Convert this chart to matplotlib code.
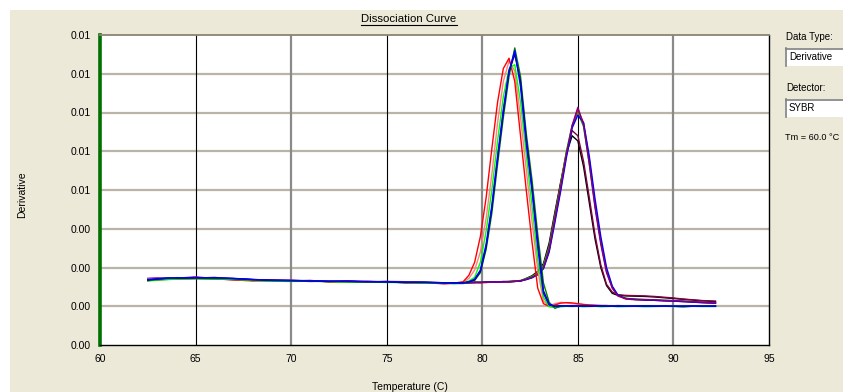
import matplotlib
matplotlib.use("Agg")
import matplotlib.pyplot as plt
from matplotlib.patches import Rectangle
from matplotlib.lines import Line2D
from matplotlib.ticker import FormatStrFormatter
import matplotlib.transforms as mtransforms

# ---------------- data ----------------
temperature = [62.5, 63.0, 63.5, 64.0, 65.0, 66.0, 67.0, 68.0, 69.0, 70.0,
               71.0, 72.0, 73.0, 74.0, 75.0, 76.0, 77.0, 78.0, 78.5, 79.0,
               79.3, 79.6, 79.9, 80.2, 80.5, 80.8, 81.1, 81.4, 81.7, 82.0,
               82.3, 82.6, 82.9, 83.2, 83.5, 83.8, 84.1, 84.4, 84.7, 85.0,
               85.3, 85.6, 85.9, 86.2, 86.5, 86.8, 87.1, 87.5, 88.0, 88.5,
               89.0, 89.5, 90.0, 90.5, 91.0, 91.5, 92.2]

# group A (product melting near 81.6 C)
a_red = [0.00250, 0.00254, 0.00255, 0.00257, 0.00262, 0.00256, 0.00252, 0.00248, 0.00251, 0.00247,
         0.00250, 0.00244, 0.00247, 0.00243, 0.00246, 0.00240, 0.00241, 0.00237, 0.00239, 0.00245,
         0.00270, 0.00320, 0.00420, 0.00570, 0.00760, 0.00940, 0.01070, 0.01110, 0.01020, 0.00810,
         0.00600, 0.00400, 0.00220, 0.00160, 0.00150, 0.00155, 0.00162, 0.00164, 0.00163, 0.00160,
         0.00157, 0.00155, 0.00154, 0.00152, 0.00153, 0.00151, 0.00152, 0.00150, 0.00151, 0.00152,
         0.00150, 0.00151, 0.00150, 0.00149, 0.00150, 0.00151, 0.00150]
a_salmon = [0.00256, 0.00258, 0.00256, 0.00261, 0.00258, 0.00262, 0.00255, 0.00253, 0.00248, 0.00250,
            0.00246, 0.00248, 0.00244, 0.00247, 0.00243, 0.00245, 0.00242, 0.00241, 0.00240, 0.00242,
            0.00258, 0.00290, 0.00360, 0.00490, 0.00660, 0.00860, 0.01020, 0.01100, 0.01060, 0.00880,
            0.00680, 0.00480, 0.00290, 0.00170, 0.00152, 0.00160, 0.00165, 0.00163, 0.00160, 0.00158,
            0.00156, 0.00155, 0.00153, 0.00154, 0.00152, 0.00151, 0.00153, 0.00151, 0.00150, 0.00151,
            0.00152, 0.00150, 0.00151, 0.00150, 0.00151, 0.00150, 0.00152]
a_lgreen = [0.00248, 0.00251, 0.00253, 0.00255, 0.00257, 0.00255, 0.00254, 0.00250, 0.00247, 0.00246,
            0.00247, 0.00245, 0.00243, 0.00244, 0.00242, 0.00242, 0.00240, 0.00239, 0.00238, 0.00240,
            0.00248, 0.00262, 0.00320, 0.00440, 0.00600, 0.00790, 0.00960, 0.01070, 0.01085, 0.00940,
            0.00740, 0.00540, 0.00330, 0.00185, 0.00148, 0.00145, 0.00148, 0.00150, 0.00149, 0.00150,
            0.00148, 0.00149, 0.00150, 0.00148, 0.00149, 0.00150, 0.00148, 0.00149, 0.00150, 0.00148,
            0.00149, 0.00150, 0.00149, 0.00148, 0.00150, 0.00149, 0.00149]
a_green = [0.00252, 0.00253, 0.00257, 0.00258, 0.00259, 0.00257, 0.00256, 0.00251, 0.00249, 0.00248,
           0.00246, 0.00247, 0.00245, 0.00243, 0.00244, 0.00241, 0.00242, 0.00240, 0.00238, 0.00238,
           0.00243, 0.00250, 0.00280, 0.00370, 0.00510, 0.00700, 0.00880, 0.01040, 0.01150, 0.01040,
           0.00820, 0.00640, 0.00430, 0.00240, 0.00165, 0.00142, 0.00150, 0.00152, 0.00151, 0.00150,
           0.00152, 0.00150, 0.00151, 0.00150, 0.00152, 0.00151, 0.00150, 0.00151, 0.00150, 0.00152,
           0.00150, 0.00151, 0.00150, 0.00148, 0.00150, 0.00151, 0.00150]
a_blue = [0.00254, 0.00257, 0.00258, 0.00260, 0.00261, 0.00260, 0.00258, 0.00253, 0.00251, 0.00250,
          0.00249, 0.00247, 0.00246, 0.00246, 0.00245, 0.00244, 0.00243, 0.00241, 0.00240, 0.00240,
          0.00245, 0.00255, 0.00290, 0.00390, 0.00540, 0.00730, 0.00910, 0.01060, 0.01140, 0.01000,
          0.00780, 0.00600, 0.00380, 0.00200, 0.00155, 0.00150, 0.00151, 0.00152, 0.00152, 0.00151,
          0.00150, 0.00151, 0.00152, 0.00151, 0.00150, 0.00151, 0.00151, 0.00150, 0.00151, 0.00150,
          0.00151, 0.00150, 0.00150, 0.00151, 0.00150, 0.00150, 0.00150]
a_navy = [0.00251, 0.00255, 0.00259, 0.00259, 0.00260, 0.00261, 0.00257, 0.00254, 0.00250, 0.00249,
          0.00248, 0.00246, 0.00247, 0.00245, 0.00244, 0.00243, 0.00242, 0.00240, 0.00241, 0.00241,
          0.00244, 0.00252, 0.00285, 0.00380, 0.00530, 0.00720, 0.00900, 0.01060, 0.01125, 0.01020,
          0.00800, 0.00610, 0.00400, 0.00210, 0.00158, 0.00150, 0.00152, 0.00151, 0.00150, 0.00152,
          0.00151, 0.00150, 0.00151, 0.00152, 0.00150, 0.00150, 0.00151, 0.00150, 0.00150, 0.00151,
          0.00150, 0.00151, 0.00150, 0.00150, 0.00151, 0.00150, 0.00151]

# group B (product melting near 85.0 C)
b_purple = [0.00258, 0.00260, 0.00257, 0.00259, 0.00263, 0.00258, 0.00257, 0.00252, 0.00250, 0.00251,
            0.00247, 0.00246, 0.00248, 0.00244, 0.00246, 0.00245, 0.00242, 0.00241, 0.00240, 0.00240,
            0.00242, 0.00241, 0.00242, 0.00243, 0.00243, 0.00244, 0.00244, 0.00245, 0.00246, 0.00248,
            0.00255, 0.00262, 0.00275, 0.00300, 0.00370, 0.00490, 0.00610, 0.00740, 0.00850, 0.00920,
            0.00850, 0.00700, 0.00530, 0.00390, 0.00280, 0.00220, 0.00190, 0.00180, 0.00177, 0.00176,
            0.00175, 0.00173, 0.00172, 0.00170, 0.00168, 0.00166, 0.00163]
b_red = [0.00250, 0.00252, 0.00254, 0.00256, 0.00258, 0.00257, 0.00254, 0.00250, 0.00248, 0.00247,
         0.00249, 0.00245, 0.00244, 0.00246, 0.00243, 0.00242, 0.00241, 0.00238, 0.00239, 0.00239,
         0.00241, 0.00243, 0.00241, 0.00242, 0.00244, 0.00243, 0.00245, 0.00244, 0.00246, 0.00249,
         0.00254, 0.00261, 0.00273, 0.00298, 0.00365, 0.00485, 0.00605, 0.00735, 0.00845, 0.00912,
         0.00860, 0.00715, 0.00545, 0.00400, 0.00285, 0.00222, 0.00190, 0.00178, 0.00175, 0.00174,
         0.00173, 0.00171, 0.00170, 0.00168, 0.00166, 0.00164, 0.00162]
b_green = [0.00253, 0.00256, 0.00256, 0.00257, 0.00259, 0.00258, 0.00255, 0.00252, 0.00249, 0.00248,
           0.00248, 0.00246, 0.00245, 0.00245, 0.00244, 0.00243, 0.00242, 0.00240, 0.00239, 0.00241,
           0.00242, 0.00242, 0.00243, 0.00242, 0.00243, 0.00245, 0.00244, 0.00246, 0.00247, 0.00250,
           0.00257, 0.00265, 0.00280, 0.00308, 0.00380, 0.00500, 0.00620, 0.00750, 0.00850, 0.00900,
           0.00845, 0.00700, 0.00540, 0.00400, 0.00290, 0.00225, 0.00192, 0.00181, 0.00178, 0.00176,
           0.00175, 0.00173, 0.00171, 0.00170, 0.00168, 0.00165, 0.00163]
b_blue = [0.00255, 0.00257, 0.00259, 0.00258, 0.00260, 0.00259, 0.00256, 0.00253, 0.00250, 0.00249,
          0.00248, 0.00247, 0.00246, 0.00245, 0.00245, 0.00244, 0.00242, 0.00241, 0.00240, 0.00240,
          0.00241, 0.00242, 0.00242, 0.00243, 0.00244, 0.00244, 0.00245, 0.00245, 0.00246, 0.00248,
          0.00253, 0.00260, 0.00272, 0.00295, 0.00360, 0.00475, 0.00595, 0.00725, 0.00840, 0.00890,
          0.00860, 0.00730, 0.00565, 0.00420, 0.00300, 0.00228, 0.00193, 0.00180, 0.00176, 0.00174,
          0.00173, 0.00171, 0.00170, 0.00168, 0.00166, 0.00164, 0.00162]
b_black = [0.00249, 0.00253, 0.00255, 0.00256, 0.00257, 0.00256, 0.00253, 0.00251, 0.00249, 0.00248,
           0.00247, 0.00246, 0.00245, 0.00244, 0.00244, 0.00243, 0.00241, 0.00240, 0.00240, 0.00241,
           0.00242, 0.00243, 0.00242, 0.00244, 0.00244, 0.00245, 0.00245, 0.00246, 0.00247, 0.00248,
           0.00258, 0.00268, 0.00285, 0.00315, 0.00395, 0.00515, 0.00630, 0.00740, 0.00810, 0.00790,
           0.00690, 0.00550, 0.00410, 0.00300, 0.00230, 0.00200, 0.00192, 0.00190, 0.00189, 0.00188,
           0.00186, 0.00183, 0.00180, 0.00177, 0.00174, 0.00171, 0.00168]
b_maroon = [0.00252, 0.00255, 0.00257, 0.00259, 0.00261, 0.00258, 0.00256, 0.00252, 0.00251, 0.00249,
            0.00248, 0.00247, 0.00246, 0.00245, 0.00245, 0.00244, 0.00242, 0.00241, 0.00241, 0.00240,
            0.00241, 0.00242, 0.00243, 0.00243, 0.00244, 0.00244, 0.00246, 0.00245, 0.00247, 0.00247,
            0.00256, 0.00265, 0.00280, 0.00308, 0.00385, 0.00505, 0.00625, 0.00745, 0.00830, 0.00810,
            0.00710, 0.00570, 0.00425, 0.00310, 0.00235, 0.00205, 0.00195, 0.00192, 0.00191, 0.00190,
            0.00188, 0.00185, 0.00182, 0.00178, 0.00175, 0.00172, 0.00170]

series = [
    (b_black, "#000000"), (b_maroon, "#800040"), (b_green, "#00C000"),
    (b_red, "#FF0000"), (b_blue, "#0000FF"), (b_purple, "#800080"),
    (a_salmon, "#FF8080"), (a_red, "#FF0000"), (a_lgreen, "#00FF00"),
    (a_green, "#008000"), (a_navy, "#000080"), (a_blue, "#0000FF"),
]

x_ticks = [60, 65, 70, 75, 80, 85, 90, 95]
y_ticks = [0.0, 0.0015, 0.003, 0.0045, 0.006, 0.0075, 0.009, 0.0105, 0.012]

# ---------------- figure ----------------
W, H = 843, 392
fig = plt.figure(figsize=(W / 100, H / 100), dpi=100, facecolor="white")
plt.rcParams["font.family"] = ["Liberation Sans", "DejaVu Sans"]
beige = "#ECE9D8"
fig.add_artist(Rectangle((10 / W, 0), 1 - 10 / W, 1 - 10 / H, transform=fig.transFigure,
                         facecolor=beige, edgecolor="none", zorder=-10))

ax = fig.add_axes([100 / W, (H - 345) / H, 669 / W, 310 / H])
ax.set_facecolor("white")
ax.set_xlim(60, 95)
ax.set_ylim(0, 0.012)
ax.set_xticks(x_ticks)
ax.set_yticks(y_ticks)
ax.yaxis.set_major_formatter(FormatStrFormatter("%.2f"))
ax.tick_params(length=0, labelsize=7.5, colors="#000000", pad=6.5)

for yv in y_ticks[1:-1]:
    ax.axhline(yv, color="#B9B4A6", lw=1.6, zorder=1)
for xv in [65, 75, 85]:
    ax.axvline(xv, color="#000000", lw=0.8, zorder=1)
for xv in [70, 80, 90]:
    ax.axvline(xv, color="#8A8A8A", lw=1.6, zorder=1)

for vals, col in series:
    ax.plot(temperature, vals, color=col, lw=1.0, zorder=3)

ax.spines["top"].set_color("#8C8470")
ax.spines["top"].set_linewidth(1.3)
ax.spines["right"].set_color("#000000")
ax.spines["right"].set_linewidth(1.0)
ax.spines["bottom"].set_color("#000000")
ax.spines["bottom"].set_linewidth(1.0)
ax.spines["left"].set_color("#007000")
ax.spines["left"].set_linewidth(2.6)

def fx(px):
    return px / W

def fy(py):
    return 1 - py / H

title = fig.text(fx(409), fy(19), "Dissociation Curve", ha="center", va="center", fontsize=8.2)
fig.text(fx(22), fy(195), "Derivative", rotation=90, ha="center", va="center", fontsize=7.5)
fig.text(fx(410), fy(382), "Temperature (C)", ha="center", va="top", fontsize=7.5)

# right-hand control panel
fig.text(fx(786), fy(37), "Data Type:", ha="left", va="center", fontsize=7)
fig.text(fx(786), fy(88), "Detector:", ha="left", va="center", fontsize=7)
fig.text(fx(785), fy(138), "Tm = 60.0 °C", ha="left", va="center", fontsize=6.6)
for top, label in [(48, "Derivative"), (99, "SYBR")]:
    fig.add_artist(Rectangle((fx(785), fy(top + 18)), fx(843) - fx(785) + 0.01, 18 / H,
                             transform=fig.transFigure, facecolor="white",
                             edgecolor="none", zorder=2))
    fig.add_artist(Line2D([fx(785.5), fx(785.5)], [fy(top), fy(top + 18)],
                          transform=fig.transFigure, color="#7F7F7F", lw=1.2, zorder=3))
    fig.add_artist(Line2D([fx(785.5), fx(843)], [fy(top + 0.5), fy(top + 0.5)],
                          transform=fig.transFigure, color="#7F7F7F", lw=1.2, zorder=3))
    fig.text(fx(789), fy(top + 9), label, ha="left", va="center", fontsize=7, zorder=4)

# underline title
fig.canvas.draw()
bb = title.get_window_extent(renderer=fig.canvas.get_renderer())
fig.add_artist(Line2D([bb.x0, bb.x1], [H - 25, H - 25], transform=mtransforms.IdentityTransform(),
                      color="black", lw=0.8))

fig.savefig("out.png", dpi=100, facecolor="white")
